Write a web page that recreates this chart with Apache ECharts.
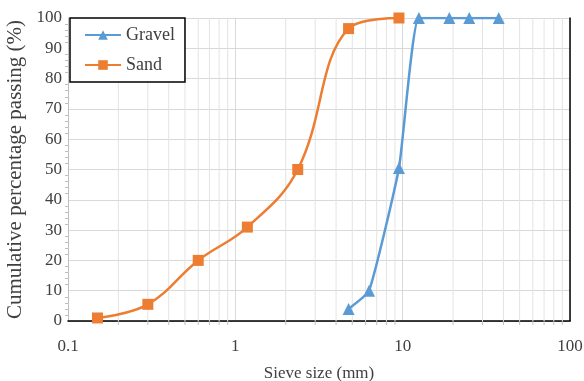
<!DOCTYPE html>
<html><head><meta charset="utf-8">
<script src="https://cdn.jsdelivr.net/npm/echarts@6/dist/echarts.min.js"></script>
<style>html,body{margin:0;padding:0;background:#fff}#c{width:584px;height:381px}</style>
</head><body><div id="c"></div>
<script>
var gravelSize = [4.75, 6.3, 9.5, 12.5, 19, 25, 37.5];
var gravelPass = [4, 10, 50.5, 100, 100, 100, 100];
var sandSize = [0.15, 0.3, 0.6, 1.18, 2.36, 4.75, 9.5];
var sandPass = [1, 5.5, 20, 31, 50, 96.5, 100];
var xTickLabels = ['0.1', '1', '10', '100'];
var minorLogValues = [0.2,0.3,0.4,0.5,0.6,0.7,0.8,0.9,2,3,4,5,6,7,8,9,20,30,40,50,60,70,80,90];

var serif = 'Liberation Serif';
var chart = echarts.init(document.getElementById('c'));
function zip(a, b) { return a.map(function (v, i) { return [v, b[i]]; }); }

chart.setOption({
  animation: false,
  grid: { left: 68, right: 14, top: 18, bottom: 60, containLabel: false, outerBoundsMode: 'none' },
  legend: {
    orient: 'vertical', left: 70, top: 18,
    backgroundColor: '#fff', borderColor: '#000', borderWidth: 1.5,
    padding: [8, 10, 8, 14], itemGap: 12, itemWidth: 36, itemHeight: 12,
    textStyle: { fontFamily: serif, fontSize: 18, color: '#404040' },
    data: ['Gravel', 'Sand']
  },
  xAxis: [{
    type: 'log', logBase: 10, min: 0.1, max: 100,
    name: 'Sieve size (mm)', nameLocation: 'middle', nameGap: 44,
    nameTextStyle: { fontFamily: serif, fontSize: 17, color: '#404040' },
    axisLine: { lineStyle: { color: '#bfbfbf' } },
    axisTick: { show: false },
    axisLabel: { fontFamily: serif, fontSize: 17, color: '#404040', margin: 17,
      formatter: function (v) { var e = Math.round(Math.log10(v)); return xTickLabels[e + 1]; } },
    splitLine: { show: true, lineStyle: { color: '#d9d9d9' } }
  }, {
    type: 'log', logBase: 10, min: 0.1, max: 100, position: 'top',
    axisLine: { lineStyle: { color: '#000', width: 1.5 } },
    axisTick: { show: false }, axisLabel: { show: false }, splitLine: { show: false }
  }],
  yAxis: [{
    type: 'value', min: 0, max: 100, interval: 10,
    name: 'Cumulative percentage passing (%)', nameLocation: 'middle', nameGap: 40,
    nameTextStyle: { fontFamily: serif, fontSize: 21, color: '#404040' },
    axisLine: { show: true, lineStyle: { color: '#bfbfbf' } },
    axisTick: { show: false },
    minorTick: { show: true, splitNumber: 5, length: 3, lineStyle: { color: '#bfbfbf' } },
    axisLabel: { fontFamily: serif, fontSize: 17, color: '#404040', margin: 6 },
    splitLine: { show: true, lineStyle: { color: '#d9d9d9' } }
  }, {
    type: 'value', min: 0, max: 100, position: 'right',
    axisLine: { show: true, lineStyle: { color: '#000', width: 1.5 } },
    axisTick: { show: false }, axisLabel: { show: false }, splitLine: { show: false }
  }],
  series: [{
    type: 'custom', silent: true, clip: false, z: 1,
    data: minorLogValues.map(function (v) { return [v]; }),
    renderItem: function (params, api) {
      var v = api.value(0);
      var top = api.coord([v, 100]);
      var bot = api.coord([v, 0]);
      return { type: 'group', children: [
        { type: 'line', shape: { x1: top[0], y1: top[1], x2: bot[0], y2: bot[1] }, style: { stroke: '#e3e3e3', lineWidth: 1 } },
        { type: 'line', shape: { x1: bot[0], y1: bot[1], x2: bot[0], y2: bot[1] + 4 }, style: { stroke: '#bfbfbf', lineWidth: 1 } }
      ] };
    }
  }, {
    name: 'Gravel', type: 'line', data: zip(gravelSize, gravelPass), smooth: 0.15,
    symbol: 'triangle', symbolSize: 12,
    itemStyle: { color: '#5B9BD5' }, lineStyle: { color: '#5B9BD5', width: 2.5 }, z: 3
  }, {
    name: 'Sand', type: 'line', data: zip(sandSize, sandPass), smooth: 0.4,
    symbol: 'rect', symbolSize: 11,
    itemStyle: { color: '#ED7D31' }, lineStyle: { color: '#ED7D31', width: 2.5 }, z: 3
  }]
});
</script></body></html>
